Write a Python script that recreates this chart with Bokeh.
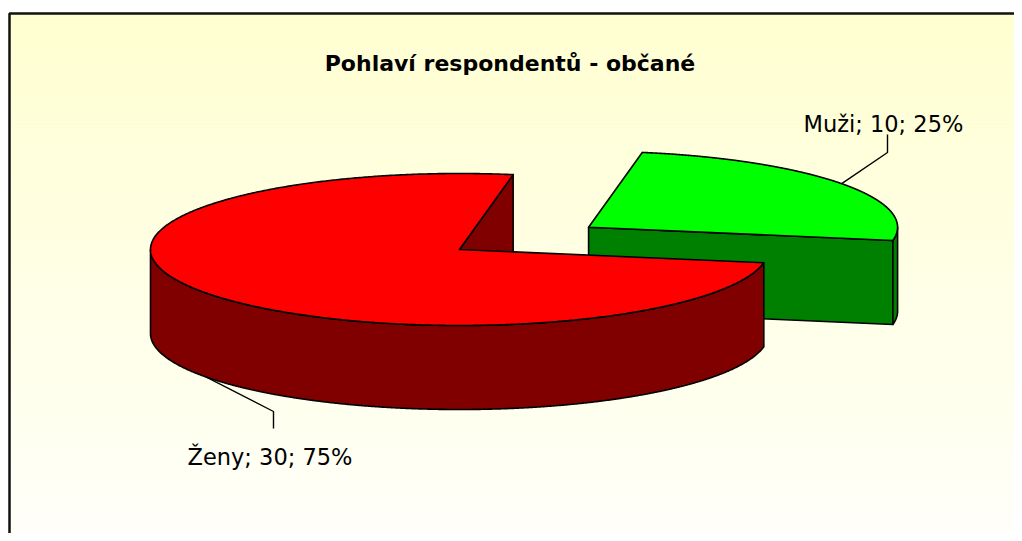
import numpy as np
from bokeh.plotting import figure
from bokeh.models import Range1d
from bokeh.embed import file_html
from bokeh.resources import INLINE
from bokeh.core.properties import value

# ---------------- data ----------------
title_text = "Pohlaví respondentů - občané"
categories = ["Muži", "Ženy"]
counts = [10, 30]
top_colors = ["#00FF00", "#FF0000"]
side_colors = ["#008000", "#800000"]
explode = [0.51, 0.0]
first_slice_angle = 10  # degrees clockwise from 12 o'clock

# ---------------- layout (image pixels) ----------------
W, H = 1014, 533
M = 0
def dx(x):
    return np.asarray(x, dtype=float) - M
def dy(y):
    return np.asarray(y, dtype=float) - M

cx, cy = 459.0, 249.0
rx, ry, depth = 309.0, 76.0, 84.0
label_text_pos = [(803, 123), (187, 456)]
label_elbow = [(887, 152), (273, 411)]
label_end = [(887, 134), (273, 428)]
FONT = "DejaVu Sans"

p = figure(width=W, height=H, output_backend="svg", toolbar_location=None,
           x_range=Range1d(0, W), y_range=Range1d(H, 0),
           x_axis_type=None, y_axis_type=None, min_border=0)
p.grid.visible = False
p.outline_line_color = None
p.background_fill_color = "white"
p.border_fill_color = "white"

# background gradient
frame_x, frame_y = 9, 13
edges = np.linspace(frame_y, H, 131)
top_rgb = np.array([255, 255, 206])
bot_rgb = np.array([255, 255, 249])
cols = []
for i in range(len(edges) - 1):
    f = (0.5 * (edges[i] + edges[i + 1]) - frame_y) / (541 - frame_y)
    c = top_rgb + (bot_rgb - top_rgb) * f
    cols.append("#%02x%02x%02x" % tuple(int(round(v)) for v in c))
p.quad(left=float(dx(frame_x)), right=W, top=dy(edges[:-1]), bottom=dy(edges[1:]),
       fill_color=cols, line_color=None)

# frame border
p.line(x=dx([frame_x, frame_x, W]), y=dy([H, frame_y, frame_y]),
       line_color="#111111", line_width=2.5)

# title
p.text(x=[float(dx(509.5))], y=[float(dy(63))], text=[title_text],
       text_font=value(FONT), text_font_style="bold", text_font_size="22px",
       text_align="center", text_baseline="alphabetic", text_color="black")

# ---------------- pie geometry ----------------
total = float(sum(counts))
slices = []
cum = 0.0
for i, v in enumerate(counts):
    a0 = 90.0 - first_slice_angle - cum / total * 360.0
    a1 = a0 - v / total * 360.0
    cum += v
    mid = 0.5 * (a0 + a1)
    ox = explode[i] * rx * np.cos(np.radians(mid))
    oy = -explode[i] * ry * np.sin(np.radians(mid))
    slices.append(dict(i=i, a0=a0, a1=a1, mid=mid, ox=ox, oy=oy))

def rim(t, ox, oy, z=0.0):
    t = np.radians(np.asarray(t, dtype=float))
    return cx + ox + rx * np.cos(t), cy + oy - ry * np.sin(t) + z

# back to front
order = sorted(slices, key=lambda s: s["oy"] - 0.5 * ry * np.sin(np.radians(s["mid"])))

OUT = "black"
LW = 1.6
for s in order:
    i, a0, a1, ox, oy = s["i"], s["a0"], s["a1"], s["ox"], s["oy"]
    side_xs, side_ys = [], []
    # radial faces
    for a, nrm in ((a0, a0 + 90.0), (a1, a1 - 90.0)):
        if np.sin(np.radians(nrm)) < 0:
            rxp, ryp = rim([a], ox, oy)
            xs = [cx + ox, rxp[0], rxp[0], cx + ox]
            ys = [cy + oy, ryp[0], ryp[0] + depth, cy + oy + depth]
            side_xs.append(dx(xs).tolist()); side_ys.append(dy(ys).tolist())
    # outer curved side (front part)
    t = np.linspace(a0, a1, 1441)
    crosses = [k * 180.0 for k in range(-4, 5) if min(a0, a1) < k * 180.0 < max(a0, a1)]
    t = np.sort(np.concatenate([t, crosses]))[::-1]
    front = np.sin(np.radians(t)) <= 1e-9
    runs = []
    cur = []
    for tt, fr in zip(t, front):
        if fr:
            cur.append(tt)
        elif cur:
            runs.append(cur); cur = []
    if cur:
        runs.append(cur)
    for r in runs:
        if len(r) < 2:
            continue
        xt, yt = rim(r, ox, oy)
        xb, yb = rim(r[::-1], ox, oy, depth)
        side_xs.append(dx(np.concatenate([xt, xb])).tolist())
        side_ys.append(dy(np.concatenate([yt, yb])).tolist())
    if side_xs:
        p.patches(xs=side_xs, ys=side_ys, fill_color=side_colors[i],
                  line_color=OUT, line_width=LW, line_join="round")
    # top face
    tt = np.linspace(a0, a1, 721)
    xt, yt = rim(tt, ox, oy)
    xs = np.concatenate([[cx + ox], xt, [cx + ox]])
    ys = np.concatenate([[cy + oy], yt, [cy + oy]])
    p.patch(x=dx(xs), y=dy(ys), fill_color=top_colors[i],
            line_color=OUT, line_width=LW, line_join="round")

# ---------------- labels with leader lines ----------------
for s in slices:
    i = s["i"]
    mid = s["mid"]
    z = depth if np.sin(np.radians(mid)) < 0 else 0.0
    axp, ayp = rim([mid], s["ox"], s["oy"], z)
    lx = [axp[0], label_elbow[i][0], label_end[i][0]]
    ly = [ayp[0], label_elbow[i][1], label_end[i][1]]
    p.line(x=dx(lx), y=dy(ly), line_color="black", line_width=1.4)
    pct = int(round(counts[i] / total * 100))
    txt = f"{categories[i]}; {counts[i]}; {pct}%"
    p.text(x=[float(dx(label_text_pos[i][0]))], y=[float(dy(label_text_pos[i][1]))],
           text=[txt], text_font=value(FONT), text_font_size="22.5px",
           text_align="left", text_baseline="alphabetic", text_color="black")

open("out.html", "w").write(file_html(p, INLINE))
